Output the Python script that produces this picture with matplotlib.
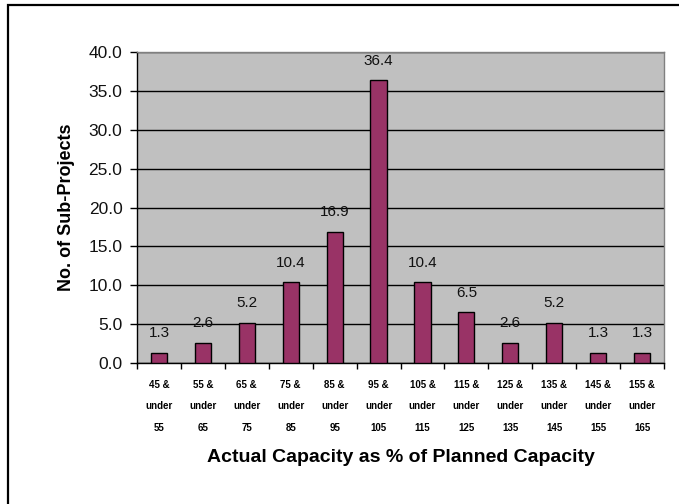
"""Histogram of sub-project actual capacity as a share of planned capacity."""

import matplotlib
matplotlib.use("Agg")
import matplotlib.pyplot as plt
from matplotlib.patches import Rectangle

plt.rcParams["font.family"] = ["Liberation Sans", "DejaVu Sans"]

lower = [45, 55, 65, 75, 85, 95, 105, 115, 125, 135, 145, 155]
upper = [55, 65, 75, 85, 95, 105, 115, 125, 135, 145, 155, 165]
counts = [1.3, 2.6, 5.2, 10.4, 16.9, 36.4, 10.4, 6.5, 2.6, 5.2, 1.3, 1.3]
y_ticks = [0, 5, 10, 15, 20, 25, 30, 35, 40]

bar_color = "#993366"
plot_bg = "#c0c0c0"


def main() -> None:
    fig = plt.figure(figsize=(6.79, 5.04), dpi=100)
    fig.patch.set_facecolor("white")

    # chart-area frame, runs off the bottom/right edge
    fig.patches.append(Rectangle((8 / 679, -0.1), 1.2, 1.1 - 5 / 504,
                                 transform=fig.transFigure, fill=False,
                                 edgecolor="black", linewidth=1.6))

    ax = fig.add_axes([137 / 679, 1 - 363 / 504, 527 / 679, 311 / 504])
    ax.set_facecolor(plot_bg)

    x = list(range(len(counts)))
    ax.bar(x, counts, width=0.37, color=bar_color, edgecolor="black",
           linewidth=1.0, zorder=3)
    for xi, v in zip(x, counts):
        ax.annotate(f"{v:.1f}", (xi, v), xytext=(0, 14), textcoords="offset points",
                    ha="center", va="center", fontsize=11, color="#111111", zorder=4)

    ax.set_xlim(-0.5, len(counts) - 0.5)
    ax.set_ylim(0, 40)
    ax.set_yticks(y_ticks)
    ax.set_yticklabels([f"{t:.1f}" for t in y_ticks], fontsize=12.5, color="#111111")
    ax.yaxis.grid(True, color="black", linewidth=1.0, zorder=1)
    ax.set_axisbelow(True)

    # category boundary ticks, labels placed between them
    ax.set_xticks([i - 0.5 for i in range(len(counts) + 1)])
    ax.set_xticklabels([])
    ax.set_xticks(x, minor=True)
    ax.set_xticklabels([f"{lo} &\nunder\n{hi}" for lo, hi in zip(lower, upper)],
                       minor=True, fontsize=7, fontweight="bold", linespacing=2.45)
    ax.tick_params(axis="x", which="minor", length=0, pad=12)
    ax.tick_params(axis="x", which="major", length=4, width=1, direction="out")
    ax.tick_params(axis="y", length=5, width=1, direction="out", pad=5.5)

    ax.spines["left"].set_color("black")
    ax.spines["bottom"].set_color("black")
    ax.spines["top"].set_color("#808080")
    ax.spines["right"].set_color("#808080")
    for s in ax.spines.values():
        s.set_linewidth(1.0)

    ax.set_ylabel("No. of Sub-Projects", fontsize=13, fontweight="bold", labelpad=10)
    fig.text(401 / 679, 1 - 458 / 504, "Actual Capacity as % of Planned Capacity",
             ha="center", va="center", fontsize=14, fontweight="bold")

    fig.savefig("out.png", dpi=100)
    plt.close(fig)


if __name__ == "__main__":
    main()
